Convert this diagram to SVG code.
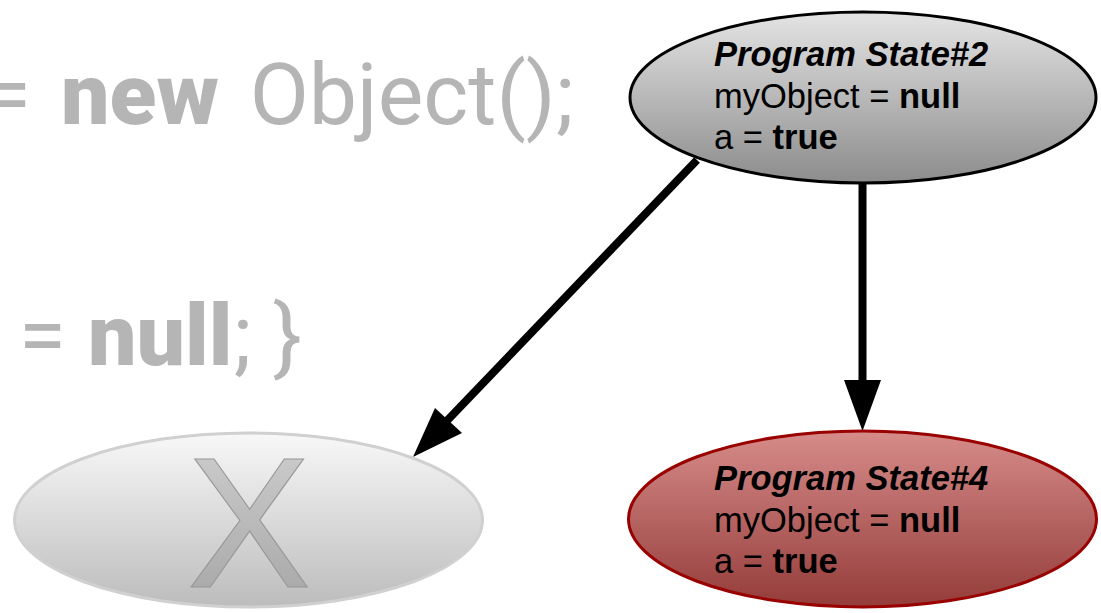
<svg xmlns="http://www.w3.org/2000/svg" width="1101" height="613" viewBox="0 0 1101 613">
<style>
.code{font-family:Roboto,"Liberation Sans",sans-serif;font-size:86px;fill:#b5b5b5;font-weight:400}
.b{font-weight:900}
.lbl{font-family:"Liberation Sans",Arial,sans-serif;font-size:34.5px;fill:#000}
.ti{font-weight:700;font-style:italic}
.edge{stroke:#000;stroke-width:8;fill:none}
</style>
<defs>
<linearGradient id="gGray" x1="0" y1="0" x2="0" y2="1">
<stop offset="0" stop-color="#e4e4e4"/>
<stop offset="1" stop-color="#8c8c8c"/>
</linearGradient>
<linearGradient id="gRed" x1="0" y1="0" x2="0" y2="1">
<stop offset="0" stop-color="#d68c8a"/>
<stop offset="1" stop-color="#943c3a"/>
</linearGradient>
<linearGradient id="gLight" x1="0" y1="0" x2="0" y2="1">
<stop offset="0" stop-color="#f8f8f8"/>
<stop offset="1" stop-color="#bcbcbc"/>
</linearGradient>
<linearGradient id="gX" x1="0" y1="0" x2="0" y2="1">
<stop offset="0" stop-color="#d2d2d2"/>
<stop offset="1" stop-color="#a2a2a2"/>
</linearGradient>
</defs>
<g id="code">
<text class="code" x="31" y="124" text-anchor="end">=</text>
<text class="code b" x="61" y="124" font-size="88">new</text>
<text class="code" x="574" y="124" text-anchor="end">Object();</text>
<text class="code" x="66" y="365" text-anchor="end">=</text>
<text class="code b" x="88" y="365" font-size="90">null</text>
<text class="code" x="302" y="365" text-anchor="end">; }</text>
</g>
<g id="connectors">
<line class="edge" x1="697" y1="160" x2="440" y2="428"/>
<polygon points="413,457 435,408 462,433" fill="#000"/>
<line class="edge" x1="862.5" y1="183" x2="862.5" y2="385"/>
<polygon points="862.5,431 844,380 881,380" fill="#000"/>
</g>
<g id="state2">
<ellipse cx="863" cy="97.5" rx="233" ry="85.5" fill="url(#gGray)" stroke="#000" stroke-width="3"/>
<text class="lbl" x="714" y="66"><tspan class="ti">Program State#2</tspan></text>
<text class="lbl" x="714" y="108">myObject = <tspan font-weight="700">null</tspan></text>
<text class="lbl" x="714" y="149">a = <tspan font-weight="700">true</tspan></text>
</g>
<g id="state4">
<ellipse cx="862.5" cy="519" rx="234" ry="88" fill="url(#gRed)" stroke="#990000" stroke-width="3"/>
<text class="lbl" x="714" y="490"><tspan class="ti">Program State#4</tspan></text>
<text class="lbl" x="714" y="532">myObject = <tspan font-weight="700">null</tspan></text>
<text class="lbl" x="714" y="573">a = <tspan font-weight="700">true</tspan></text>
</g>
<g id="gone">
<ellipse cx="248.5" cy="520" rx="234" ry="87" fill="url(#gLight)" stroke="#d0d0d0" stroke-width="3"/>
<text x="249" y="587" text-anchor="middle" font-family="'Liberation Sans',Arial,sans-serif" font-size="186" fill="url(#gX)" stroke="#999" stroke-width="1.2">X</text>
</g>
</svg>
